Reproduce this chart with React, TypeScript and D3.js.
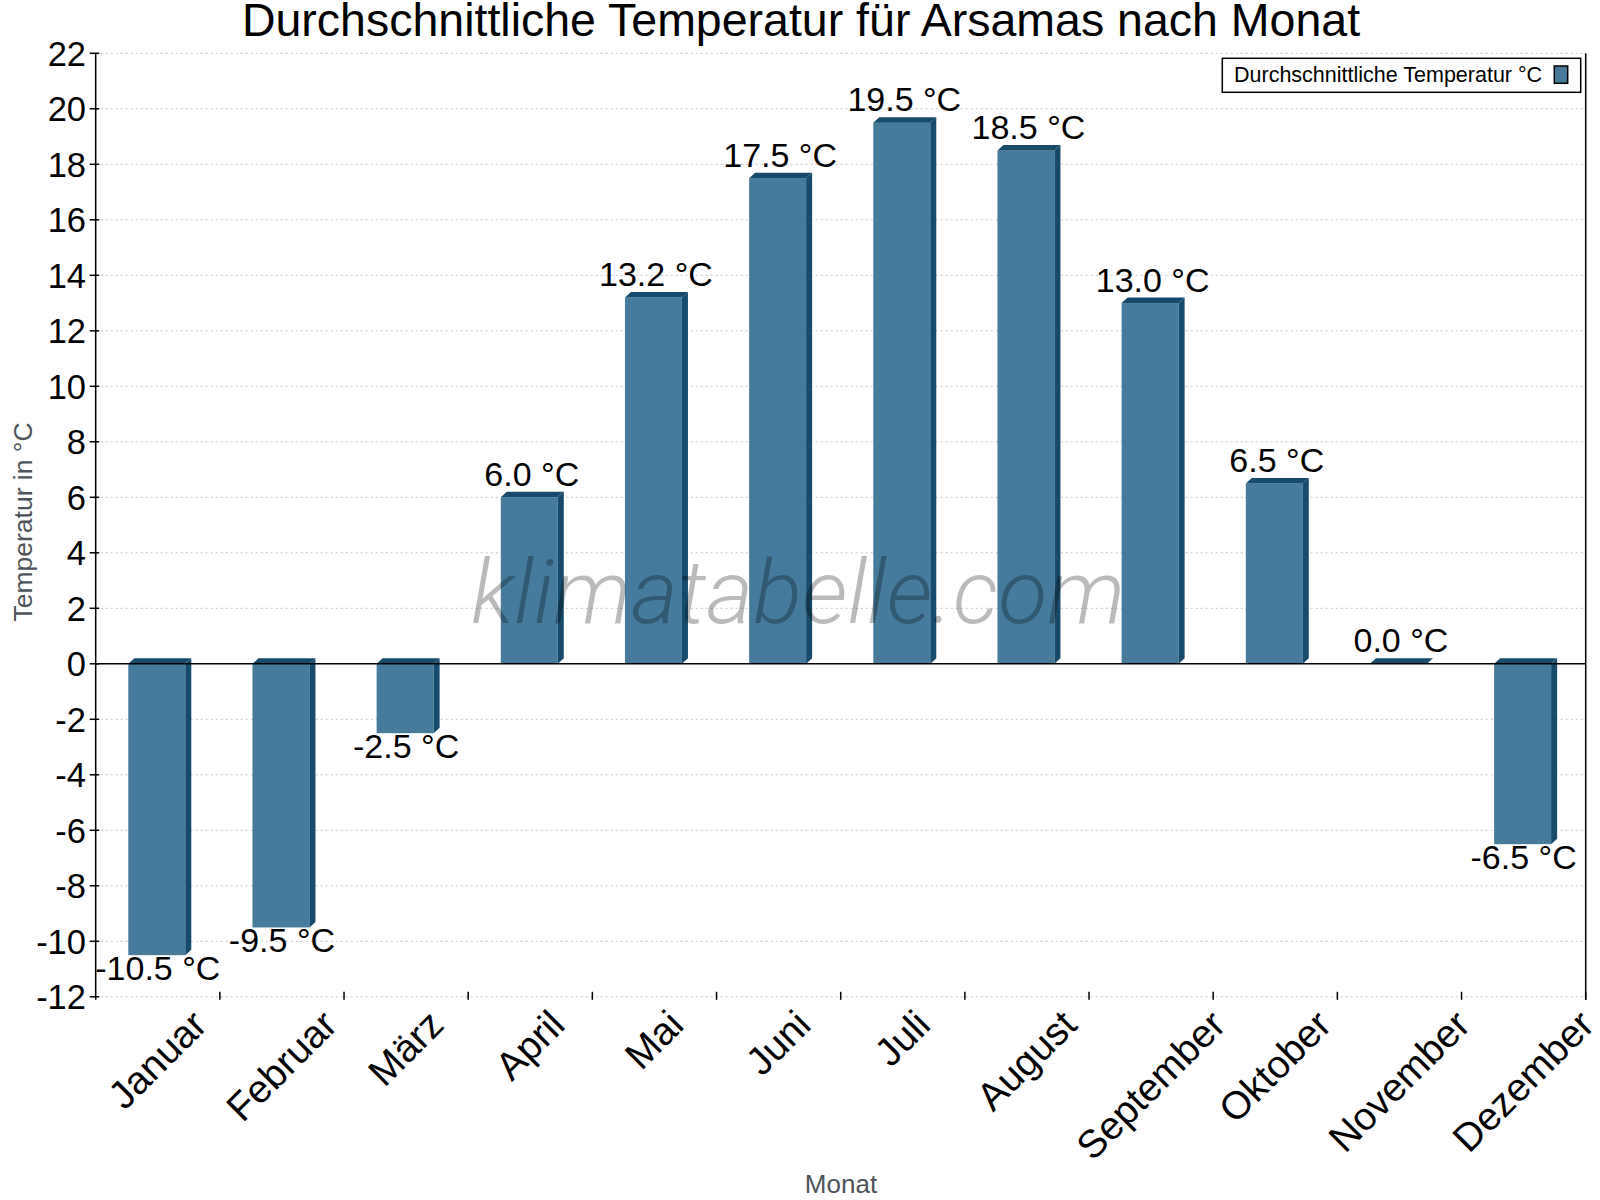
import React from "react";
import * as d3 from "d3";

const months = ["Januar", "Februar", "März", "April", "Mai", "Juni", "Juli", "August", "September", "Oktober", "November", "Dezember"];
const temps = [-10.5, -9.5, -2.5, 6.0, 13.2, 17.5, 19.5, 18.5, 13.0, 6.5, 0.0, -6.5];
const yTicks = [-12, -10, -8, -6, -4, -2, 0, 2, 4, 6, 8, 10, 12, 14, 16, 18, 20, 22];

const title = "Durchschnittliche Temperatur für Arsamas nach Monat";
const yTitle = "Temperatur in °C";
const xTitle = "Monat";
const legendLabel = "Durchschnittliche Temperatur °C";
const watermark = "klimatabelle.com";

const FRONT = "#467b9c";
const DARK = "#174b6c";
const FONT = "Arial, 'Liberation Sans', sans-serif";

const L = 95.7, R = 1585.7, T = 53.3, B = 996.8;

function measure(text: string, size: number): number {
  if (typeof document === "undefined") return text.length * size * 0.5;
  const c = document.createElement("canvas");
  const ctx = c.getContext("2d");
  if (!ctx) return text.length * size * 0.5;
  ctx.font = `${size}px Arial, 'Liberation Sans', sans-serif`;
  return ctx.measureText(text).width;
}

export default function App() {
  const x = d3.scaleBand<string>().domain(months).range([L, R]).paddingInner(0).paddingOuter(0);
  const y = d3.scaleLinear().domain([-12, 22]).range([B, T]);
  const bw = 57;
  const dx = 6;
  const dy = 5.5;
  const y0 = y(0);
  const xFs = 39;

  return (
    <svg width={1600} height={1200} style={{ position: "absolute", left: 0, top: 0, background: "#fff" }} fontFamily={FONT}>
      <rect x={0} y={0} width={1600} height={1200} fill="#fff" />
      {/* grid */}
      {yTicks.filter((t) => t !== 0).map((t) => (
        <line key={"g" + t} x1={L} x2={R} y1={y(t)} y2={y(t)} stroke="#c4c4c4" strokeWidth={1} strokeDasharray="2,3" />
      ))}
      {/* bars */}
      {months.map((m, i) => {
        const v = temps[i];
        const cx = (x(m) as number) + x.bandwidth() / 2;
        const x0 = cx - bw / 2 - 1;
        const top = Math.min(y(v), y0);
        const bot = Math.max(y(v), y0);
        const topFace = `M${x0},${top} L${x0 + dx},${top - dy} L${x0 + bw + dx},${top - dy} L${x0 + bw},${top} Z`;
        const side = `M${x0 + bw},${top} L${x0 + bw + dx},${top - dy} L${x0 + bw + dx},${bot - dy} L${x0 + bw},${bot} Z`;
        return (
          <g key={m}>
            {bot - top > 0 && <rect x={x0} y={top} width={bw} height={bot - top} fill={FRONT} />}
            <path d={side} fill={DARK} />
            <path d={topFace} fill={DARK} />
          </g>
        );
      })}
      {/* zero line */}
      <line x1={L} x2={R} y1={y0} y2={y0} stroke="#000" strokeWidth={1.5} />
      {/* value labels */}
      {months.map((m, i) => {
        const v = temps[i];
        const cx = (x(m) as number) + x.bandwidth() / 2 + (v >= 0 ? 1.5 : 0);
        const ly = v >= 0 ? y(v) - 11.5 : y(v) + 25;
        return (
          <text key={"v" + m} x={cx} y={ly} textAnchor="middle" fontSize={34} fill="#000">
            {v.toFixed(1) + " °C"}
          </text>
        );
      })}
      {/* axes */}
      <line x1={L} x2={L} y1={T} y2={B + 3} stroke="#000" strokeWidth={1.5} />
      <line x1={R} x2={R} y1={T} y2={B + 3} stroke="#000" strokeWidth={1.5} />
      {yTicks.map((t) => (
        <g key={"yt" + t}>
          <line x1={L - 6} x2={L + 3.5} y1={y(t)} y2={y(t)} stroke="#000" strokeWidth={1.5} />
          <text x={86} y={y(t)} dy="0.36em" textAnchor="end" fontSize={34.5} fill="#000">
            {String(t)}
          </text>
        </g>
      ))}
      {months.map((m) => {
        const xr = (x(m) as number) + x.bandwidth();
        return <line key={"xt" + m} x1={xr} x2={xr} y1={B - 5} y2={B + 3} stroke="#000" strokeWidth={1.5} />;
      })}
      {months.map((m) => {
        const cx = (x(m) as number) + x.bandwidth() / 2;
        const w = measure(m, xFs);
        const ax = cx + 9 + 0.354 * w;
        const ay = 1027;
        return (
          <text key={"xl" + m} x={ax} y={ay} textAnchor="end" fontSize={xFs} fill="#000" transform={`rotate(-45, ${ax}, ${ay})`}>
            {m}
          </text>
        );
      })}
      {/* axis titles */}
      <text x={31.7} y={522} textAnchor="middle" fontSize={26.5} fill="#4d5359" transform="rotate(-90, 31.7, 522)">
        {yTitle}
      </text>
      <text x={841} y={1193} textAnchor="middle" fontSize={26} fill="#4d5359">
        {xTitle}
      </text>
      {/* title */}
      <text x={801} y={36} textAnchor="middle" fontSize={46.5} fill="#000">
        {title}
      </text>
      {/* legend */}
      <rect x={1222.3} y={58.3} width={358.4} height={34} fill="#fff" stroke="#000" strokeWidth={1.5} />
      <text x={1234} y={82.3} fontSize={21.5} fill="#000">
        {legendLabel}
      </text>
      <rect x={1554.3} y={66} width={13.4} height={17.3} fill={FRONT} stroke="#000" strokeWidth={1.5} />
      {/* watermark */}
      <text
        x={798}
        y={623}
        textAnchor="middle"
        fontSize={88}
        fontFamily="Roboto, 'Open Sans', sans-serif"
        fontStyle="italic"
        fontWeight={300}
        fill="#000"
        fillOpacity={0.27}
        textLength={654}
        lengthAdjust="spacingAndGlyphs"
      >
        {watermark}
      </text>
    </svg>
  );
}
